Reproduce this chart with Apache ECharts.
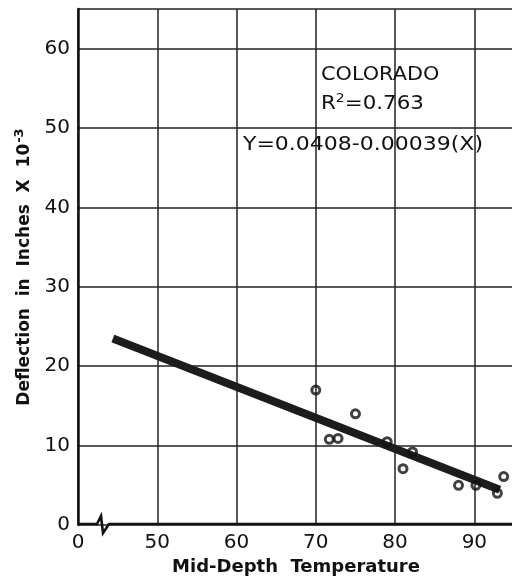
<!DOCTYPE html>
<html>
<head>
<meta charset="utf-8">
<script src="https://cdn.jsdelivr.net/npm/echarts@6/dist/echarts.min.js"></script>
<style>
  html, body { margin: 0; padding: 0; background: #fff; }
  #chart { width: 512px; height: 576px; }
</style>
</head>
<body>
<div id="chart"></div>
<script>
// Mid-depth temperature (deg F) and measured deflection (inches x 10^-3)
const temperature = [70, 71.7, 72.8, 75, 79, 81, 82.2, 88, 90.2, 92.9, 93.7];
const deflection  = [17.0, 10.8, 10.9, 14.0, 10.5, 7.1, 9.2, 5.0, 5.0, 4.0, 6.1];

// Fitted line Y = 40.8 - 0.39 X (x 10^-3), end points of the drawn segment
const fitTemp = [44.4, 93.2];
const fitDefl = [23.5, 4.45];

const xTicks = [40, 50, 60, 70, 80, 90];
const xTickText = ['0', '50', '60', '70', '80', '90'];
const yTicks = [0, 10, 20, 30, 40, 50, 60];

const ink = '#111111';
const font = 'DejaVu Sans';

const chart = echarts.init(document.getElementById('chart'), null, { renderer: 'canvas' });

const option = {
  backgroundColor: '#ffffff',
  animation: false,
  grid: { left: 78, top: 9, right: -2, bottom: 51, containLabel: false, outerBoundsMode: 'none' },
  xAxis: {
    type: 'value',
    min: 40, max: 95, interval: 10,
    name: 'Mid-Depth  Temperature',
    nameLocation: 'middle',
    nameGap: 23,
    nameTextStyle: { fontFamily: font, fontWeight: 'bold', fontSize: 18, color: ink, verticalAlign: 'top' },
    axisLine: { show: false },
    axisTick: { show: false },
    axisLabel: {
      margin: 8, fontFamily: font, fontSize: 20, color: ink,
      showMaxLabel: false,
      formatter: v => { const i = xTicks.indexOf(v); return i >= 0 ? xTickText[i] : ''; }
    },
    splitLine: { show: true, lineStyle: { color: '#222', width: 1.5 } }
  },
  yAxis: {
    type: 'value',
    min: 0, max: 65, interval: 10,
    name: '{t|Deflection  in  Inches  X  10}{s|-3}',
    nameLocation: 'middle',
    nameGap: 42,
    nameRotate: 90,
    nameTextStyle: {
      rich: {
        t: { fontFamily: font, fontWeight: 'bold', fontSize: 17, color: ink },
        s: { fontFamily: font, fontWeight: 'bold', fontSize: 13, color: ink, verticalAlign: 'bottom', padding: [0, 0, 10, 1] }
      }
    },
    axisLine: { show: true, lineStyle: { color: ink, width: 2.5 } },
    axisTick: { show: false },
    axisLabel: {
      margin: 8, fontFamily: font, fontSize: 20, color: ink,
      formatter: v => (yTicks.indexOf(v) >= 0 ? String(v) : '')
    },
    splitLine: { show: true, lineStyle: { color: '#222', width: 1.5 } }
  },
  series: [
    {
      type: 'line',
      data: fitTemp.map((t, i) => [t, fitDefl[i]]),
      symbol: 'none',
      lineStyle: { color: '#1c1c1c', width: 8, cap: 'butt' },
      z: 3
    },
    {
      type: 'scatter',
      data: temperature.map((t, i) => [t, deflection[i]]),
      symbol: 'circle',
      symbolSize: 8,
      itemStyle: { color: 'rgba(255,255,255,0)', borderColor: ink, borderWidth: 3 },
      z: 4
    }
  ]
};

chart.setOption(option);

// Bottom axis with a break symbol next to the origin, plus the annotation block
const o = chart.convertToPixel({ gridIndex: 0 }, [40, 0]);
const xr = chart.convertToPixel({ gridIndex: 0 }, [95, 0]);
const ox = o[0], oy = o[1];

chart.setOption({
  graphic: [
    {
      type: 'polyline',
      shape: { points: [[ox, oy - 1], [ox + 19, oy - 1], [ox + 23, oy - 9], [ox + 25, oy + 8], [ox + 31, oy - 1], [xr[0], oy - 1]] },
      style: { stroke: ink, lineWidth: 2.6, fill: null, lineJoin: 'miter' },
      z: 10
    },
    {
      type: 'text', x: 321, y: 75, scaleX: 1.04,
      style: { text: 'COLORADO', fontFamily: font, fontSize: 20, fill: ink, verticalAlign: 'middle', align: 'left' },
      z: 10
    },
    {
      type: 'text', x: 321, y: 104, scaleX: 1.07,
      style: {
        text: '{a|R}{s|2}{a|=0.763}',
        verticalAlign: 'middle', align: 'left',
        rich: {
          a: { fontFamily: font, fontSize: 20, fill: ink },
          s: { fontFamily: font, fontSize: 13, fill: ink, padding: [0, 0, 10, 0] }
        }
      },
      z: 10
    },
    {
      type: 'text', x: 243, y: 145, scaleX: 1.1,
      style: { text: 'Y=0.0408-0.00039(X)', fontFamily: font, fontSize: 20, fill: ink, verticalAlign: 'middle', align: 'left' },
      z: 10
    }
  ]
});
</script>
</body>
</html>
